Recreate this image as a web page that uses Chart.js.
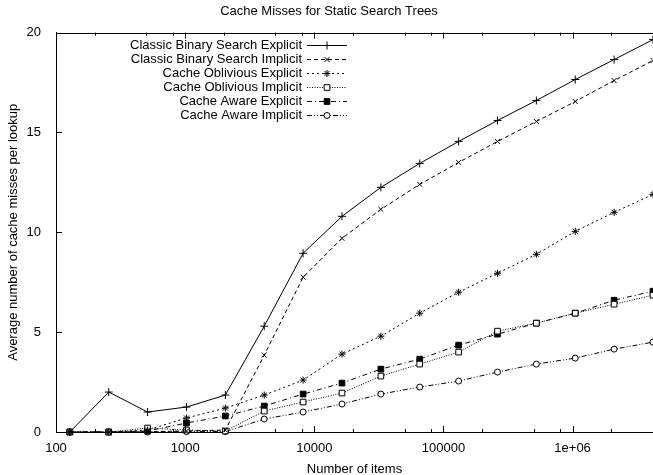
<!DOCTYPE html>
<html>
<head>
<meta charset="utf-8">
<script src="https://cdn.jsdelivr.net/npm/chart.js@4/dist/chart.umd.min.js"></script>
<style>
html, body { margin: 0; padding: 0; background: #fff; overflow: hidden; }
</style>
</head>
<body>
<!-- el grafico original esta recortado a la derecha: el canvas se sale 5px de la ventana -->
<canvas id="myChart" width="658" height="475"></canvas>
<script>
// eje X: number of items (powers of two)
var items = [128, 256, 512, 1024, 2048, 4096, 8192, 16384, 32768, 65536,
             131072, 262144, 524288, 1048576, 2097152, 4194304];

// eje Y: average cache misses per lookup
var cbsExplicit = [0, 2.0, 1.0, 1.25, 1.85, 5.3, 8.95, 10.8, 12.25, 13.45, 14.55, 15.6, 16.6, 17.65, 18.65, 19.65];
var cbsImplicit = [0, 0, 0.02, 0.05, 0.1, 3.85, 7.75, 9.7, 11.15, 12.4, 13.5, 14.55, 15.55, 16.55, 17.6, 18.6];
var coExplicit  = [0, 0, 0.1, 0.7, 1.2, 1.85, 2.6, 3.9, 4.8, 5.95, 7.0, 7.95, 8.9, 10.05, 11.0, 11.9];
var coImplicit  = [0, 0, 0.2, 0.1, 0.05, 1.05, 1.5, 1.95, 2.8, 3.4, 4.0, 5.05, 5.45, 5.95, 6.4, 6.85];
var caExplicit  = [0, 0, 0.05, 0.45, 0.8, 1.3, 1.9, 2.45, 3.15, 3.65, 4.35, 4.9, 5.45, 5.95, 6.6, 7.05];
var caImplicit  = [0, 0, 0, 0.02, 0.02, 0.65, 1.0, 1.4, 1.9, 2.25, 2.55, 3.0, 3.4, 3.7, 4.15, 4.5];

var seriesNames = ['Classic Binary Search Explicit', 'Classic Binary Search Implicit',
                   'Cache Oblivious Explicit', 'Cache Oblivious Implicit',
                   'Cache Aware Explicit', 'Cache Aware Implicit'];

var xTickLabels = {100: '100', 1000: '1000', 10000: '10000', 100000: '100000', 1000000: '1e+06'};
var yTicks = [0, 5, 10, 15, 20];

var FONT = 'Liberation Sans';

function puntos(vals) {
    var out = [];
    for (var i = 0; i < items.length; i++) {
        out.push({x: items[i], y: vals[i]});
    }
    return out;
}

function serie(idx, vals, dash, style, radius, fill) {
    return {
        label: seriesNames[idx],
        data: puntos(vals),
        borderColor: '#000',
        borderWidth: 1,
        borderDash: dash,
        pointStyle: style,
        pointRadius: radius,
        pointBorderColor: '#000',
        pointBorderWidth: 1,
        pointBackgroundColor: fill,
        tension: 0,
        fill: false,
        clip: 4
    };
}

// ticks hacia adentro, borde superior y leyenda estilo gnuplot
var gnuplotBox = {
    id: 'gnuplotBox',
    afterDraw: function(chart) {
        var c = chart.ctx;
        var a = chart.chartArea;
        var sx = chart.scales.x;
        var sy = chart.scales.y;
        c.save();
        c.strokeStyle = '#000';
        c.lineWidth = 1;
        c.setLineDash([]);
        c.beginPath();
        c.moveTo(a.left, Math.round(a.top) + 0.5);
        c.lineTo(a.right, Math.round(a.top) + 0.5);
        for (var p = 100; p <= 1e6; p *= 10) {
            var mults = [1, 2, 5, 8];
            for (var m = 0; m < mults.length; m++) {
                var v = p * mults[m];
                if (v > 4194304) continue;
                var px = Math.round(sx.getPixelForValue(v)) + 0.5;
                var len = mults[m] == 1 ? 6 : 3;
                c.moveTo(px, a.bottom);
                c.lineTo(px, a.bottom - len);
                c.moveTo(px, a.top);
                c.lineTo(px, a.top + len);
            }
        }
        for (var t = 0; t < yTicks.length; t++) {
            var py = Math.round(sy.getPixelForValue(yTicks[t])) + 0.5;
            c.moveTo(a.left, py);
            c.lineTo(a.left + 6, py);
        }
        c.stroke();

        // leyenda
        c.font = '13px "' + FONT + '"';
        c.fillStyle = '#000';
        c.textAlign = 'right';
        c.textBaseline = 'middle';
        var ds = chart.data.datasets;
        for (var i = 0; i < ds.length; i++) {
            var ty = 45 + 14 * i;
            c.fillText(ds[i].label, 302, ty);
            c.setLineDash(ds[i].borderDash);
            c.beginPath();
            c.moveTo(307, ty + 0.5);
            c.lineTo(347, ty + 0.5);
            c.stroke();
            c.setLineDash([]);
            c.fillStyle = ds[i].pointBackgroundColor;
            Chart.helpers.drawPoint(c, {
                pointStyle: ds[i].pointStyle,
                radius: ds[i].pointRadius,
                rotation: 0,
                borderWidth: 1
            }, 327, ty + 0.5);
            c.fillStyle = '#000';
        }
        c.restore();
    }
};

var ctx = document.getElementById('myChart').getContext('2d');
var myChart = new Chart(ctx, {
    type: 'line',
    data: {
        datasets: [
            serie(0, cbsExplicit, [], 'cross', 4, 'rgba(0,0,0,0)'),
            serie(1, cbsImplicit, [4, 3], 'crossRot', 3.5, 'rgba(0,0,0,0)'),
            serie(2, coExplicit, [2, 3], 'star', 3.5, 'rgba(0,0,0,0)'),
            serie(3, coImplicit, [1, 1.5], 'rect', 4, '#fff'),
            serie(4, caExplicit, [5, 3, 1, 3], 'rect', 4, '#000'),
            serie(5, caImplicit, [5, 2, 1, 2, 1, 2], 'circle', 3, '#fff')
        ]
    },
    options: {
        responsive: false,
        animation: false,
        layout: { padding: 0 },
        plugins: {
            legend: { display: false },
            tooltip: { enabled: false },
            title: {
                display: true,
                text: 'Cache Misses for Static Search Trees',
                color: '#000',
                font: { family: FONT, size: 13, weight: 'normal' },
                padding: { top: 4, bottom: 13 }
            }
        },
        scales: {
            x: {
                type: 'logarithmic',
                min: 100,
                max: 4194304,
                grid: { display: false },
                border: { color: '#000', width: 1 },
                afterFit: function(scale) {
                    scale.height = 43;
                    scale.paddingRight = 0;
                },
                ticks: {
                    color: '#000',
                    font: { family: FONT, size: 13 },
                    padding: 1,
                    maxRotation: 0,
                    autoSkip: false,
                    callback: function(v) { return xTickLabels[v] || ''; }
                },
                title: {
                    display: true,
                    text: 'Number of items',
                    color: '#000',
                    font: { family: FONT, size: 13 },
                    padding: { top: -2, bottom: -2 }
                }
            },
            y: {
                min: 0,
                max: 20,
                grid: { display: false },
                border: { color: '#000', width: 1 },
                afterFit: function(scale) { scale.width = 56; },
                ticks: {
                    stepSize: 5,
                    color: '#000',
                    font: { family: FONT, size: 13 },
                    padding: 7
                },
                title: {
                    display: true,
                    text: 'Average number of cache misses per lookup',
                    color: '#000',
                    font: { family: FONT, size: 13 },
                    padding: { top: 6, bottom: 0 }
                }
            }
        }
    },
    plugins: [gnuplotBox]
});
</script>
</body>
</html>
